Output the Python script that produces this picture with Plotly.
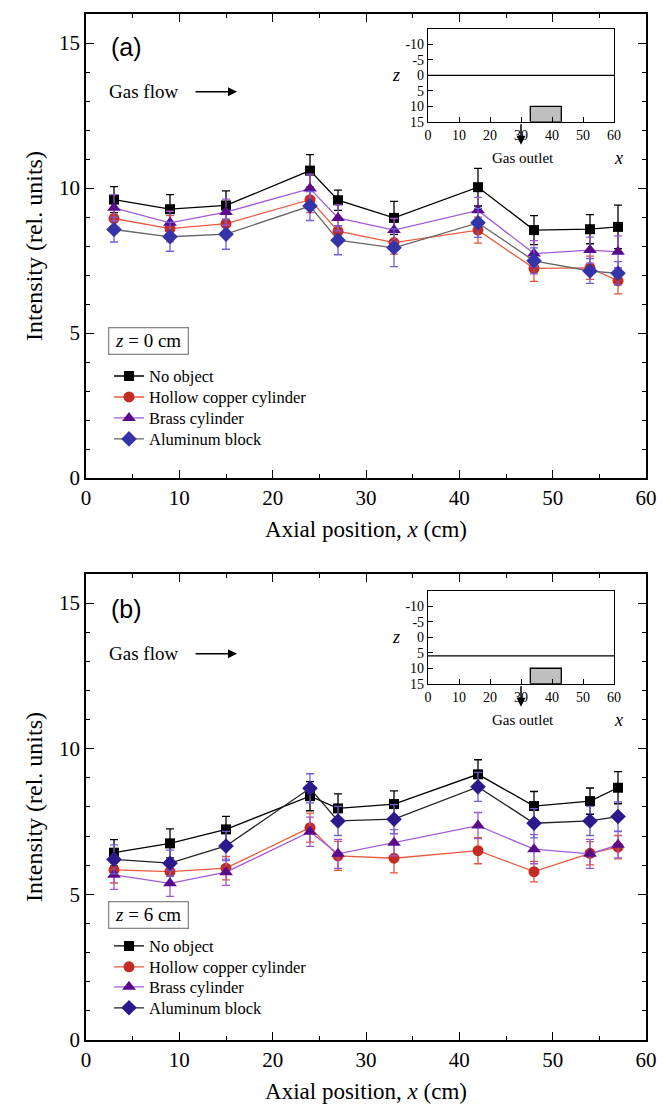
import plotly.graph_objects as go

# ---------------- data ----------------
x_pos = [3, 9, 15, 24, 27, 33, 42, 48, 54, 57]
series_names = ["No object", "Hollow copper cylinder", "Brass cylinder", "Aluminum block"]

# panel (a): z = 0 cm
a_none = [9.60, 9.27, 9.40, 10.60, 9.58, 8.97, 10.03, 8.55, 8.58, 8.66]
a_copper = [8.95, 8.60, 8.77, 9.60, 8.51, 8.12, 8.55, 7.23, 7.25, 6.80]
a_brass = [9.32, 8.80, 9.17, 9.98, 8.97, 8.55, 9.23, 7.74, 7.86, 7.80]
a_alu = [8.57, 8.32, 8.41, 9.38, 8.20, 7.94, 8.80, 7.49, 7.14, 7.06]
a_none_err = [0.45, 0.50, 0.50, 0.55, 0.35, 0.57, 0.65, 0.50, 0.50, 0.75]
a_copper_err = [0.40, 0.45, 0.40, 0.45, 0.40, 0.40, 0.45, 0.45, 0.40, 0.45]
a_brass_err = [0.45, 0.40, 0.45, 0.50, 0.45, 0.40, 0.45, 0.45, 0.45, 0.55]
a_alu_err = [0.43, 0.50, 0.52, 0.50, 0.50, 0.65, 0.50, 0.45, 0.43, 0.40]

# panel (b): z = 6 cm
b_none = [6.43, 6.75, 7.23, 8.37, 7.95, 8.10, 9.12, 8.03, 8.20, 8.66]
b_copper = [5.84, 5.78, 5.90, 7.29, 6.32, 6.24, 6.50, 5.78, 6.41, 6.62]
b_brass = [5.67, 5.38, 5.76, 7.15, 6.39, 6.77, 7.36, 6.55, 6.39, 6.70]
b_alu = [6.20, 6.07, 6.66, 8.64, 7.52, 7.58, 8.69, 7.44, 7.52, 7.67]
b_none_err = [0.45, 0.50, 0.45, 0.50, 0.50, 0.45, 0.50, 0.50, 0.45, 0.55]
b_copper_err = [0.45, 0.40, 0.40, 0.50, 0.50, 0.50, 0.45, 0.35, 0.40, 0.40]
b_brass_err = [0.50, 0.45, 0.45, 0.50, 0.50, 0.45, 0.45, 0.50, 0.50, 0.45]
b_alu_err = [0.50, 0.45, 0.50, 0.50, 0.50, 0.50, 0.50, 0.50, 0.50, 0.50]

# inset schematic
z_plane = {"a": 0, "b": 6}
inset_x_ticks = [0, 10, 20, 30, 40, 50, 60]
inset_z_ticks = [-10, -5, 0, 5, 10, 15]
inset_z_labels = ["-10", "-5", "0", "5", "10", "15"]
box_x = [33, 43]
box_z = [10, 15]

# ---------------- styling ----------------
SERIF = "Liberation Serif"
SANS = "Liberation Sans"
symbols = ["square", "circle", "triangle-up", "diamond"]
marker_sizes = [10, 11, 12, 12]
marker_colors = ["#000000", "#c42b22", "#5a0b8c", "#3434a8"]
err_colors = ["#000000", "#e5553c", "#9a58d2", "#6b62d8"]
line_colors_a = ["#000000", "#ea5a40", "#a35ad8", "#666666"]
line_colors_b = ["#000000", "#ea5a40", "#a35ad8", "#222222"]
marker_colors_b = ["#000000", "#c42b22", "#5a0b8c", "#2b1a8e"]

OFF = 8  # page body margin
W, H = 663, 1100
ML, MT = 86 - OFF, 12 - OFF
MB = H - (1040 - OFF)
MR = W - (646 - OFF)
PW = W - ML - MR
PH = H - MT - MB


def px(xs):
    # screen x -> paper
    return (xs - OFF - ML) / PW


def py(ys):
    # screen y -> paper
    return (H - MB - (ys - OFF)) / PH


fig = go.Figure()

panels = [
    ("a", "x", "y", [a_none, a_copper, a_brass, a_alu],
     [a_none_err, a_copper_err, a_brass_err, a_alu_err], line_colors_a, marker_colors,
     [375, 396, 417, 438]),
    ("b", "x2", "y2", [b_none, b_copper, b_brass, b_alu],
     [b_none_err, b_copper_err, b_brass_err, b_alu_err], line_colors_b, marker_colors_b,
     [946, 967, 987, 1008]),
]

legend_layouts = {}
k = 0
for tag, xa, ya, ys, errs, lcols, mcols, leg_y in panels:
    for i in range(4):
        k += 1
        lname = "legend" if k == 1 else f"legend{k}"
        fig.add_trace(go.Scatter(
            x=x_pos, y=ys[i], xaxis=xa, yaxis=ya,
            mode="lines+markers", name=series_names[i],
            line=dict(color=lcols[i], width=1.3),
            marker=dict(symbol=symbols[i], size=marker_sizes[i], color=mcols[i],
                        line=dict(width=0)),
            error_y=dict(type="data", array=errs[i], color=err_colors[i],
                         thickness=1.3, width=4),
            legend=lname, showlegend=True,
        ))
        legend_layouts[lname] = dict(
            x=px(109), y=py(leg_y[i]), xanchor="left", yanchor="middle",
            bgcolor="rgba(0,0,0,0)", borderwidth=0,
            font=dict(family=SERIF, size=16.5, color="black"),
            itemwidth=30, tracegroupgap=0,
        )

# inset traces (z plane line and gray block)
for tag, xa, ya in [("a", "x3", "y3"), ("b", "x4", "y4")]:
    fig.add_trace(go.Scatter(
        x=[inset_x_ticks[0], inset_x_ticks[-1]], y=[z_plane[tag], z_plane[tag]],
        xaxis=xa, yaxis=ya, mode="lines", line=dict(color="black", width=1.3),
        showlegend=False, hoverinfo="skip"))
    fig.add_trace(go.Scatter(
        x=[box_x[0], box_x[1], box_x[1], box_x[0], box_x[0]],
        y=[box_z[1], box_z[1], box_z[0], box_z[0], box_z[1]],
        xaxis=xa, yaxis=ya, mode="lines", fill="toself", fillcolor="#c0c0c0",
        line=dict(color="black", width=1.3), showlegend=False, hoverinfo="skip"))

main_x = dict(range=[0, 60], tick0=0, dtick=10, ticks="inside", ticklen=8, tickwidth=1.3,
              tickcolor="black", showline=True, linewidth=1.5, linecolor="black",
              mirror="ticks", showgrid=False, zeroline=False,
              minor=dict(dtick=5, ticks="inside", ticklen=4, tickwidth=1.2, tickcolor="black"),
              tickfont=dict(family=SERIF, size=21, color="black"),
              title=dict(text="Axial position, <i>x</i> (cm)",
                         font=dict(family=SERIF, size=23, color="black"), standoff=12))
main_y = dict(range=[0, 16], tick0=0, dtick=5, ticks="inside", ticklen=8, tickwidth=1.3,
              tickcolor="black", showline=True, linewidth=1.5, linecolor="black",
              mirror="ticks", showgrid=False, zeroline=False,
              minor=dict(dtick=1, ticks="inside", ticklen=4, tickwidth=1.2, tickcolor="black"),
              tickfont=dict(family=SERIF, size=21, color="black"),
              title=dict(text="Intensity (rel. units)",
                         font=dict(family=SERIF, size=24, color="black"), standoff=10))

inset_x = dict(range=[0, 60], tickvals=inset_x_ticks, ticks="inside", ticklen=5, tickwidth=1.2,
               tickcolor="black", showline=True, linewidth=1.3, linecolor="black",
               mirror=True, showgrid=False, zeroline=False,
               tickfont=dict(family=SERIF, size=14, color="black"))
inset_z = dict(range=[15, -15], tickvals=inset_z_ticks, ticktext=inset_z_labels,
               ticks="inside", ticklen=5, tickwidth=1.2,
               tickcolor="black", showline=True, linewidth=1.3, linecolor="black",
               mirror=True, showgrid=False, zeroline=False,
               tickfont=dict(family=SERIF, size=14, color="black"))

inset_xd = [px(428), px(614)]

layout = dict(
    width=W, height=H, margin=dict(l=ML, r=MR, t=MT, b=MB),
    paper_bgcolor="white", plot_bgcolor="white",
    xaxis=dict(main_x, anchor="y", domain=[0, 1]),
    yaxis=dict(main_y, anchor="x", domain=[py(477), 1]),
    xaxis2=dict(main_x, anchor="y2", domain=[0, 1]),
    yaxis2=dict(main_y, anchor="x2", domain=[0, py(573)]),
    xaxis3=dict(inset_x, anchor="y3", domain=inset_xd),
    yaxis3=dict(inset_z, anchor="x3", domain=[py(120), py(27)]),
    xaxis4=dict(inset_x, anchor="y4", domain=inset_xd),
    yaxis4=dict(inset_z, anchor="x4", domain=[py(683), py(590)]),
)
layout.update(legend_layouts)
fig.update_layout(**layout)


def text_ann(text, xs, ys, size, family=SERIF, xanchor="center", **kw):
    return dict(text=text, x=px(xs), y=py(ys), xref="paper", yref="paper",
                xanchor=xanchor, yanchor="middle", showarrow=False,
                font=dict(family=family, size=size, color="black"), **kw)


def arrow_ann(xs, ys, ax, ay):
    return dict(text="", x=px(xs), y=py(ys), xref="paper", yref="paper",
                ax=ax, ay=ay, showarrow=True, arrowhead=2, arrowsize=1.2, arrowwidth=1.5,
                arrowcolor="black")


ann = []
for tag, off, box_y in [("a", 0, 340), ("b", 563, 915)]:
    ann += [
        text_ann("(" + tag + ")", 109, 45 + off, 25, family=SANS, xanchor="left"),
        text_ann("Gas flow", 107, 90 + off, 19, xanchor="left"),
        arrow_ann(237, 90 + off, -43, 0),
        text_ann("<i>z</i>", 396, 73 + off, 18),
        arrow_ann(521, 143 + off, 0, -22),
        text_ann("Gas outlet", 523, 156 + off, 15),
        text_ann("<i>x</i>", 618, 156 + off, 18),
        text_ann("\u00a0<i>z</i> = " + str(z_plane[tag]) + " cm\u00a0", 108, box_y, 19,
                 xanchor="left", bordercolor="#888888", borderwidth=1.3, borderpad=2),
    ]
fig.update_layout(annotations=ann)

fig.write_html("out.html")
